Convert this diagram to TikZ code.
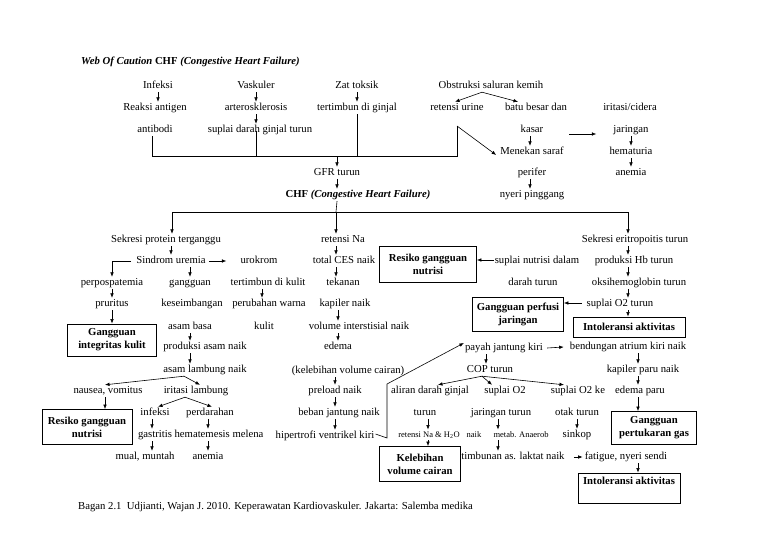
\documentclass[tikz,border=0pt]{standalone}
\usepackage{fontspec}
\setmainfont{Liberation Serif}
\usetikzlibrary{arrows.meta}
\newcommand\myfs{\fontsize{10.7}{13}\selectfont}
\newcommand\mysm{\fontsize{8.5}{10}\selectfont}
\begin{document}
\begin{tikzpicture}[x=1pt,y=-1pt,
 t/.style={inner sep=1pt, text height=7.5pt, text depth=2.5pt, font=\myfs},
 sm/.style={inner sep=1pt, text height=6.5pt, text depth=2pt, font=\mysm},
 bx/.style={draw, line width=0.8pt, font=\myfs\bfseries, align=center, inner sep=2pt},
 arr/.style={-{Latex[length=4.5pt,width=3.6pt]}, line width=0.6pt},
 ln/.style={line width=0.6pt}]
\fill[white] (0,0) rectangle (768,543);
\useasboundingbox (0,0) rectangle (768,543);

% title
\node[t, anchor=west] (title) at (80,62) {\textbf{\textit{Web Of Caution}} \textbf{CHF} \textbf{\textit{(Congestive Heart Failure)}}};

% top part
\node[t] (infeksi) at (158,86) {Infeksi};
\node[t] (vaskuler) at (256,86) {Vaskuler};
\node[t] (zat) at (357,86) {Zat toksik};
\node[t] (obs) at (491,86) {Obstruksi saluran kemih};
\node[t] (reaksi) at (155,108) {Reaksi antigen};
\node[t] (arter) at (256,108) {arterosklerosis};
\node[t] (tertimbun) at (357,108) {tertimbun di ginjal};
\node[t] (retensi) at (457,108) {retensi urine};
\node[t] (batu) at (536,108) {batu besar dan};
\node[t] (iritasi) at (630,108) {iritasi/cidera};
\node[t] (antibodi) at (155,130) {antibodi};
\node[t] (suplai) at (260,130) {suplai darah ginjal turun};
\node[t] (kasar) at (532,130) {kasar};
\node[t] (jaringan1) at (631,130) {jaringan};
\node[t] (menekan) at (532,152) {Menekan saraf};
\node[t] (hematuria) at (631,152) {hematuria};
\node[t] (gfr) at (337,173) {GFR turun};
\node[t] (perifer) at (532,173) {perifer};
\node[t] (anemia1) at (631,173) {anemia};
\node[t] (chf) at (358,195) {\textbf{CHF} \textbf{\textit{(Congestive Heart Failure)}}};
\node[t] (nyeri) at (532,195) {nyeri pinggang};

\draw[arr] (infeksi.south) -- (reaksi.north -| infeksi.south);
\draw[arr] (vaskuler.south) -- (arter.north);
\draw[arr] (arter.south) -- (arter.south |- suplai.north);
\draw[arr] (zat.south) -- (tertimbun.north);
\draw[arr] ([xshift=-9pt]obs.south) -- ([xshift=-2pt]retensi.north);
\draw[arr] ([xshift=-9pt]obs.south) -- ([xshift=-18pt]batu.north);
\draw[arr] ([xshift=-2pt]kasar.south) -- ([xshift=-2pt]kasar.south |- menekan.north);
\draw[arr] ([xshift=25pt,yshift=-4pt]kasar.east) -- ([xshift=-16pt,yshift=-4pt]jaringan1.west);
\draw[arr] (jaringan1.south) -- (hematuria.north);
\draw[arr] (hematuria.south) -- (anemia1.north);
\draw[arr] ([xshift=-2pt]perifer.south) -- ([xshift=-2pt]perifer.south |- nyeri.north);

\coordinate (busL) at (152,156);
\coordinate (busR) at (457,156);
\coordinate (rt) at (457,126);
\draw[ln] (antibodi.south -| busL) -- (busL) -- (busR) -- (rt);
\draw[arr] (rt) -- ([xshift=-3pt,yshift=-3pt]menekan.west);
\draw[ln] ([yshift=5pt]suplai.south -| arter.south) -- (arter.south |- busL);
\draw[ln] (tertimbun.south) -- (tertimbun.south |- busL);
\draw[arr] (busL -| gfr.north) -- (gfr.north);
\draw[arr] (gfr.south) -- (gfr.south |- chf.north);

\coordinate (dL) at (172,212);
\coordinate (dM) at (336,212);
\coordinate (dR) at (628,212);
\draw[ln] (gfr.south |- chf.south) -- (dM);
\draw[ln] (dL) -- (dR);

% left column
\node[t] (sekresi) at (166,240) {Sekresi protein terganggu};
\node[t] (sindrom) at (171,261) {Sindrom uremia};
\node[t] (urokrom) at (259,261) {urokrom};
\node[t] (perpos) at (112,283) {perpospatemia};
\node[t] (gangguan) at (190,283) {gangguan};
\node[t] (tertkulit) at (268,283) {tertimbun di kulit};
\node[t] (pruritus) at (112,304) {pruritus};
\node[t] (keseimb) at (192,304) {keseimbangan};
\node[t] (perubahan) at (269,304) {perubahan warna};
\node[bx, minimum width=89pt, minimum height=32pt] (boxkulit) at (112,340) {Gangguan\\integritas kulit};
\node[t] (asambasa) at (190,327) {asam basa};
\node[t] (kulit) at (264,327) {kulit};
\node[t] (prodasam) at (205,347) {produksi asam naik};
\node[t] (asamlamb) at (205,370) {asam lambung naik};
\node[t] (nausea) at (108,391) {nausea, vomitus};
\node[t] (iritasil) at (196,391) {iritasi lambung};
\node[bx, minimum width=90pt, minimum height=35pt] (boxnutri1) at (87,427) {Resiko gangguan\\nutrisi};
\node[t] (infeksi2) at (155,413) {infeksi};
\node[t] (perdarahan) at (210,413) {perdarahan};
\node[t] (gastritis) at (155,435) {gastritis};
\node[t] (hemat) at (219,435) {hematemesis melena};
\node[t] (mual) at (145,457) {mual, muntah};
\node[t] (anemia2) at (208,457) {anemia};

\draw[arr] (dL) -- (dL |- sekresi.north);
\draw[arr] (sekresi.south -| sindrom.north) -- (sindrom.north);
\draw[arr] ([xshift=2pt]sindrom.east) -- ([xshift=-13pt]urokrom.west);
\draw[arr] ([xshift=-4pt]sindrom.west) -| (perpos.north);
\draw[arr] (sindrom.south -| gangguan.north) -- (gangguan.north);
\draw[arr] (perpos.south) -- (pruritus.north);
\draw[arr] (pruritus.south) -- (boxkulit.north);
\draw[arr] ([xshift=-6pt]tertkulit.south) -- ([xshift=-6pt]tertkulit.south |- perubahan.north);
\draw[arr] (asambasa.south) -- (asambasa.south |- prodasam.north);
\draw[arr] (prodasam.south -| asambasa.south) -- (asambasa.south |- asamlamb.north);
\draw[arr] ([xshift=-21pt]asamlamb.south) -- ([xshift=-3pt]nausea.north);
\draw[arr] ([xshift=-21pt]asamlamb.south) -- ([xshift=4pt]iritasil.north);
\draw[arr] ([xshift=-3pt]nausea.south) -- ([xshift=-3pt]nausea.south |- boxnutri1.north);
\draw[arr] ([xshift=-11pt]iritasil.south) -- ([xshift=3pt]infeksi2.north);
\draw[arr] ([xshift=-11pt]iritasil.south) -- ([xshift=2pt]perdarahan.north);
\draw[arr] ([xshift=-3pt]infeksi2.south) -- ([xshift=-3pt]infeksi2.south |- gastritis.north);
\draw[arr] ([xshift=-3pt]gastritis.south) -- ([xshift=-3pt]gastritis.south |- mual.north);
\draw[arr] ([xshift=-2pt]perdarahan.south) -- ([xshift=-2pt]perdarahan.south |- hemat.north);
\draw[arr] (hemat.south -| anemia2.north) -- (anemia2.north);

% middle column
\node[t] (retNa) at (343,240) {retensi Na};
\node[t] (ces) at (344,261) {total CES naik};
\node[t] (tekanan) at (343,283) {tekanan};
\node[t] (kapiler) at (345,304) {kapiler naik};
\node[t] (volint) at (359,327) {volume interstisial naik};
\node[t] (edema) at (338,347) {edema};
\node[t] (kelvol) at (348,371) {(kelebihan volume cairan)};
\node[t] (preload) at (335,391) {preload naik};
\node[t] (beban) at (339,413) {beban jantung naik};
\node[t] (hipert) at (325,436) {hipertrofi ventrikel kiri};

\draw[arr] (dM) -- (dM |- retNa.north);
\draw[arr] (retNa.south -| dM) -- (ces.north -| dM);
\draw[arr] (ces.south -| dM) -- (tekanan.north -| dM);
\draw[arr] ([xshift=-7pt]kapiler.south) -- ([xshift=-7pt]kapiler.south |- volint.north);
\draw[arr] (volint.south -| edema.north) -- (edema.north);
\draw[arr] (kelvol.south -| preload.north) -- (preload.north);
\draw[arr] (preload.south) -- (preload.south |- beban.north);
\draw[arr] (beban.south -| preload.south) -- (preload.south |- hipert.north);

\node[bx, minimum width=97pt, minimum height=36pt] (boxnutri2) at (428,264) {Resiko gangguan\\nutrisi};
\node[t] (supnut) at (537,261) {suplai nutrisi dalam};
\node[t] (darah) at (533,283) {darah turun};
\draw[arr] ([yshift=1pt]supnut.west) -- ([yshift=1pt]supnut.west -| boxnutri2.east);

% right column
\node[t] (eritro) at (635,240) {Sekresi eritropoitis turun};
\node[t] (hb) at (634,261) {produksi Hb turun};
\node[t] (oksi) at (639,283) {oksihemoglobin turun};
\node[t] (supo2) at (620,304) {suplai O2 turun};
\node[bx, minimum width=91pt, minimum height=34pt] (boxperf) at (518,314) {Gangguan perfusi\\jaringan};
\node[bx, minimum width=112pt, minimum height=20pt] (boxintol1) at (629,327) {Intoleransi aktivitas};

\draw[arr] (dR) -- (dR |- eritro.north);
\draw[arr] (eritro.south -| dR) -- (hb.north -| dR);
\draw[arr] (hb.south -| dR) -- (oksi.north -| dR);
\draw[arr] (oksi.south -| dR) -- (supo2.north -| dR);
\draw[arr] (supo2.south -| dR) -- (boxintol1.north -| dR);
\draw[arr] ([xshift=-4pt,yshift=1pt]supo2.west) -- ([yshift=1pt]supo2.west -| boxperf.east);

% lower part
\node[t] (payah) at (504,348) {payah jantung kiri};
\node[t] (bendungan) at (628,347) {bendungan atrium kiri naik};
\node[t] (kapparu) at (643,370) {kapiler paru naik};
\node[t] (edparu) at (640,391) {edema paru};
\node[bx, minimum width=85pt, minimum height=33pt] (boxgas) at (654,428) {Gangguan\\pertukaran gas};
\node[t] (cop) at (490,370) {COP turun};
\node[t] (aliran) at (430,391) {aliran darah ginjal};
\node[t] (supo2b) at (505,391) {suplai O2};
\node[t] (supo2ke) at (578,391) {suplai O2 ke};
\node[t] (turun) at (425,413) {turun};
\node[t] (jarturun) at (501,413) {jaringan turun};
\node[t] (otak) at (577,413) {otak turun};
\node[sm] (retNaH) at (429,435) {retensi Na \& H\textsubscript{2}O};
\node[sm] (naik) at (474,435) {naik};
\node[sm] (metab) at (521,435) {metab. Anaerob};
\node[t] (sinkop) at (577,435) {sinkop};
\node[bx, minimum width=81pt, minimum height=35pt] (boxkel) at (420,464) {Kelebihan\\volume cairan};
\node[t] (timbunan) at (513,457) {timbunan as. laktat naik};
\node[t] (fatigue) at (626,457) {fatigue, nyeri sendi};
\node[bx, minimum width=102pt, minimum height=30pt,
  label={[t, font=\myfs\bfseries, anchor=north, yshift=-3pt]north:Intoleransi aktivitas}] (boxintol2) at (629,488) {};

\coordinate (hk) at (387,438);
\coordinate (hp) at (387,384);
\draw[arr] ([yshift=2pt]hipert.east) -- (hk) -- (hp) -- ([yshift=5pt]payah.west);
\draw[arr] ([xshift=3pt]payah.east) -- ([xshift=-5pt]bendungan.west);
\draw[arr] ([xshift=10pt]bendungan.south) -- ([xshift=10pt]bendungan.south |- kapparu.north);
\draw[arr] ([xshift=-5pt]kapparu.south) -- ([xshift=-5pt]kapparu.south |- edparu.north);
\draw[arr] ([xshift=-2pt]edparu.south) -- ([xshift=-2pt]edparu.south |- boxgas.north);
\draw[arr] ([xshift=-4pt]cop.north |- payah.south) -- ([xshift=-4pt]cop.north);
\draw[arr] ([xshift=-8pt]cop.south) -- ([xshift=8pt]aliran.north);
\draw[arr] ([xshift=-8pt]cop.south) -- ([xshift=-13pt]supo2b.north);
\draw[arr] ([xshift=-8pt]cop.south) -- ([xshift=-14pt]supo2ke.north);
\draw[arr] ([xshift=3pt]turun.south) -- ([xshift=3pt]turun.south |- retNaH.north);
\draw[arr] ([xshift=-1pt]retNaH.south) -- ([xshift=-1pt]retNaH.south |- boxkel.north);
\draw[arr] ([xshift=-3pt]jarturun.south) -- ([xshift=-3pt]jarturun.south |- metab.north);
\draw[arr] ([xshift=-23pt]metab.south) -- ([xshift=-23pt]metab.south |- timbunan.north);
\draw[arr] (otak.south) -- (otak.south |- sinkop.north);
\draw[arr] ([xshift=8pt]timbunan.east) -- ([xshift=-1pt]fatigue.west);
\draw[arr] ([xshift=12pt]fatigue.south) -- ([xshift=12pt]fatigue.south |- boxintol2.north);

% caption
\node[t, anchor=west] (caption) at (77,507) {Bagan 2.1\ \ Udjianti, Wajan J. 2010. Keperawatan Kardiovaskuler. Jakarta: Salemba medika};
\end{tikzpicture}
\end{document}
